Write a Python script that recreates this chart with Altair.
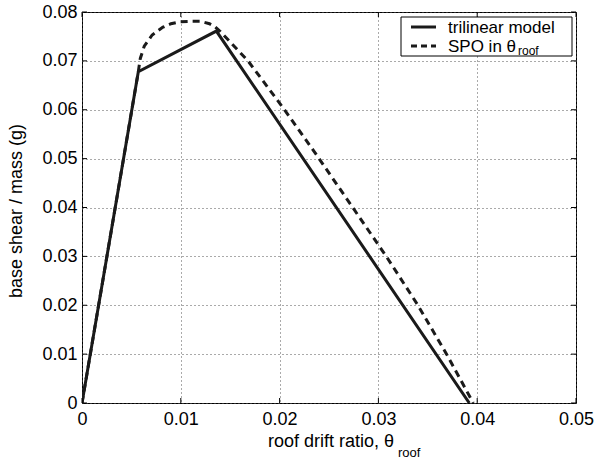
import altair as alt
import pandas as pd

# ---- data ----
tri_x = [0.0, 0.0057, 0.0136, 0.0392]
tri_y = [0.0, 0.0678, 0.0761, 0.0]

spo_x = [0.0, 0.0057, 0.0059, 0.0063, 0.0071, 0.0082, 0.0090, 0.0099, 0.0110,
         0.0120, 0.0129, 0.0135, 0.0140, 0.0168, 0.0205, 0.0240, 0.0274, 0.0308,
         0.0340, 0.0369, 0.0396]
spo_y = [0.0, 0.0678, 0.0705, 0.0730, 0.0753, 0.0769, 0.0776, 0.0780, 0.0781,
         0.0781, 0.0776, 0.0769, 0.0760, 0.0700, 0.0600, 0.0500, 0.0400, 0.0300,
         0.0200, 0.0100, 0.0]

x_ticks = [0.0, 0.01, 0.02, 0.03, 0.04, 0.05]
y_ticks = [0.0, 0.01, 0.02, 0.03, 0.04, 0.05, 0.06, 0.07, 0.08]

FONT = "Liberation Sans"
FS = 18
LFS = 17
W, H = 494, 391

xs = alt.Scale(domain=[0, 0.05], nice=False, zero=False)
ys = alt.Scale(domain=[0, 0.08], nice=False, zero=False)

tri = pd.DataFrame({"x": tri_x, "y": tri_y, "o": range(len(tri_x))})
spo = pd.DataFrame({"x": spo_x, "y": spo_y, "o": range(len(spo_x))})

x_axis = alt.Axis(values=x_ticks, format=".2~f", grid=True, gridDash=[1, 3],
                  gridColor="#555", domain=False, ticks=False, labelFont=FONT,
                  labelFontSize=FS, labelColor="#000", labelPadding=7, title=None,
                  labelFlush=False)
y_axis = alt.Axis(values=y_ticks, format=".2~f", grid=True, gridDash=[1, 3],
                  gridColor="#555", domain=False, ticks=False, labelFont=FONT,
                  labelFontSize=FS, labelColor="#000", labelPadding=5, title=None,
                  labelFlush=False)

tri_line = alt.Chart(tri).mark_line(color="#1a1a1a", strokeWidth=3, clip=True).encode(
    x=alt.X("x:Q", scale=xs, axis=x_axis),
    y=alt.Y("y:Q", scale=ys, axis=y_axis),
    order="o:O",
)
spo_line = alt.Chart(spo).mark_line(color="#1a1a1a", strokeWidth=3,
                                     strokeDash=[7, 5], clip=True).encode(
    x=alt.X("x:Q", scale=xs),
    y=alt.Y("y:Q", scale=ys),
    order="o:O",
)

# inward ticks on all four sides
xt = pd.DataFrame({"v": x_ticks})
yt = pd.DataFrame({"v": y_ticks})
tick_b = alt.Chart(xt).mark_rule(color="#000", strokeWidth=1).encode(
    x=alt.X("v:Q", scale=xs), y=alt.value(H), y2=alt.value(H - 5))
tick_t = alt.Chart(xt).mark_rule(color="#000", strokeWidth=1).encode(
    x=alt.X("v:Q", scale=xs), y=alt.value(0), y2=alt.value(5))
tick_l = alt.Chart(yt).mark_rule(color="#000", strokeWidth=1).encode(
    y=alt.Y("v:Q", scale=ys), x=alt.value(0), x2=alt.value(5))
tick_r = alt.Chart(yt).mark_rule(color="#000", strokeWidth=1).encode(
    y=alt.Y("v:Q", scale=ys), x=alt.value(W), x2=alt.value(W - 5))

one = pd.DataFrame({"a": [0]})

def txt(s, x, y, size=FS, align="left", baseline="alphabetic", angle=0):
    return alt.Chart(one).mark_text(text=s, font=FONT, fontSize=size, align=align,
                                    baseline=baseline, angle=angle, color="#000").encode(
        x=alt.value(x), y=alt.value(y))

# axis titles
x_title = txt("roof drift ratio, θ", 312, 435, align="right")
x_sub = txt("roof", 316, 445, size=13)
y_title = txt("base shear / mass (g)", -65, 199, align="center", baseline="middle", angle=270)

# legend
leg_box = alt.Chart(one).mark_rect(fill="white", stroke="#000", strokeWidth=1).encode(
    x=alt.value(319), x2=alt.value(490), y=alt.value(5), y2=alt.value(44))
leg_l1 = alt.Chart(one).mark_rule(color="#1a1a1a", strokeWidth=3).encode(
    x=alt.value(329), x2=alt.value(354), y=alt.value(15))
leg_l2 = alt.Chart(one).mark_rule(color="#1a1a1a", strokeWidth=3, strokeDash=[6, 4]).encode(
    x=alt.value(329), x2=alt.value(354), y=alt.value(34))
leg_t1 = txt("trilinear model", 366, 21, size=LFS)
leg_t2 = txt("SPO in θ", 366, 40, size=LFS)
leg_t2s = txt("roof", 436, 43, size=12)

chart = alt.layer(
    tri_line, spo_line, tick_b, tick_t, tick_l, tick_r,
    x_title, x_sub, y_title,
    leg_box, leg_l1, leg_l2, leg_t1, leg_t2, leg_t2s,
).properties(
    width=W, height=H,
    autosize=alt.AutoSizeParams(type="none"),
    padding={"left": 82, "top": 12, "right": 29, "bottom": 58},
    background="white",
).configure_view(stroke="#000", strokeWidth=1)

chart.save("out.html", embed_options={"renderer": "svg", "actions": False})
